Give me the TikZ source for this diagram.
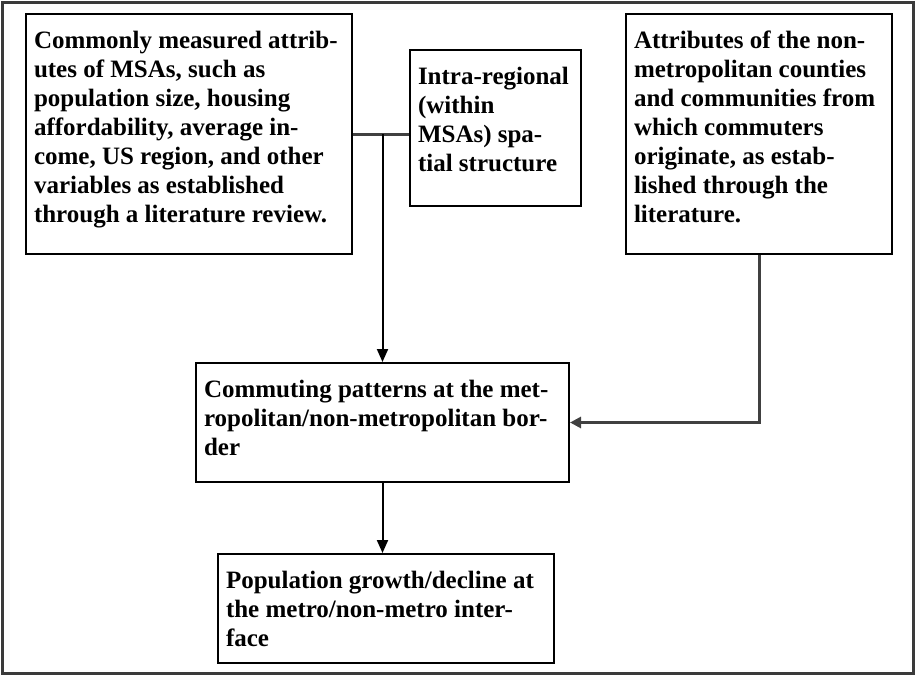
\documentclass[tikz,border=0pt]{standalone}
\usepackage{fontspec}
\setmainfont{Liberation Serif}
\usetikzlibrary{arrows.meta}
\usepackage{xcolor}

\definecolor{framegray}{HTML}{3A3A3A}
\definecolor{linkgray}{HTML}{404040}

\newcommand{\boxtext}[3]{\parbox[t][#2][t]{#1}{\vspace*{17pt}\raggedright
  \fontsize{25}{29}\selectfont\bfseries #3}}

\begin{document}
\begin{tikzpicture}[x=1pt,y=-1pt,
    box/.style={draw=black,line width=2pt,anchor=north west,inner xsep=8pt,inner ysep=0pt},
    link/.style={line width=2pt,-{Triangle[length=13pt,width=11pt]}},
    feed/.style={draw=linkgray,line width=3pt,-{Triangle[length=11pt,width=11pt]}},
  ]
  \useasboundingbox (0,0) rectangle (915,675);
  \draw[framegray,line width=3pt] (2.5,2) rectangle (913,673);

  \node[box] (attr) at (25,13) {\boxtext{310pt}{240pt}{Commonly measured attrib-\\
    utes of MSAs, such as\\ population size, housing\\ affordability, average in-\\
    come, US region, and other\\ variables as established\\ through a literature review.}};
  \node[box] (intra) at (409,49) {\boxtext{155pt}{156pt}{Intra-regional\\ (within\\
    MSAs) spa-\\ tial structure}};
  \node[box] (origin) at (625,13) {\boxtext{250pt}{240pt}{Attributes of the non-\\
    metropolitan counties\\ and communities from\\ which commuters\\
    originate, as estab-\\ lished through the\\ literature.}};

  \node[box] (commute) at (195,362) {\boxtext{357pt}{119pt}{Commuting patterns at the met-\\
    ropolitan/non-metropolitan bor-\\ der}};
  \node[box] (growth) at (217,553) {\boxtext{320pt}{109pt}{Population growth/decline at\\
    the metro/non-metro inter-\\ face}};

  \coordinate (jn) at (commute.north |- attr.east);
  \draw[linkgray,line width=3pt] (attr.east) -- (attr.east -| intra.west);
  \draw[link] (jn) -- (commute.north);
  \draw[feed] (origin.south) |- (commute.east);
  \draw[link] (commute.south) -- (commute.south |- growth.north);
\end{tikzpicture}
\end{document}
